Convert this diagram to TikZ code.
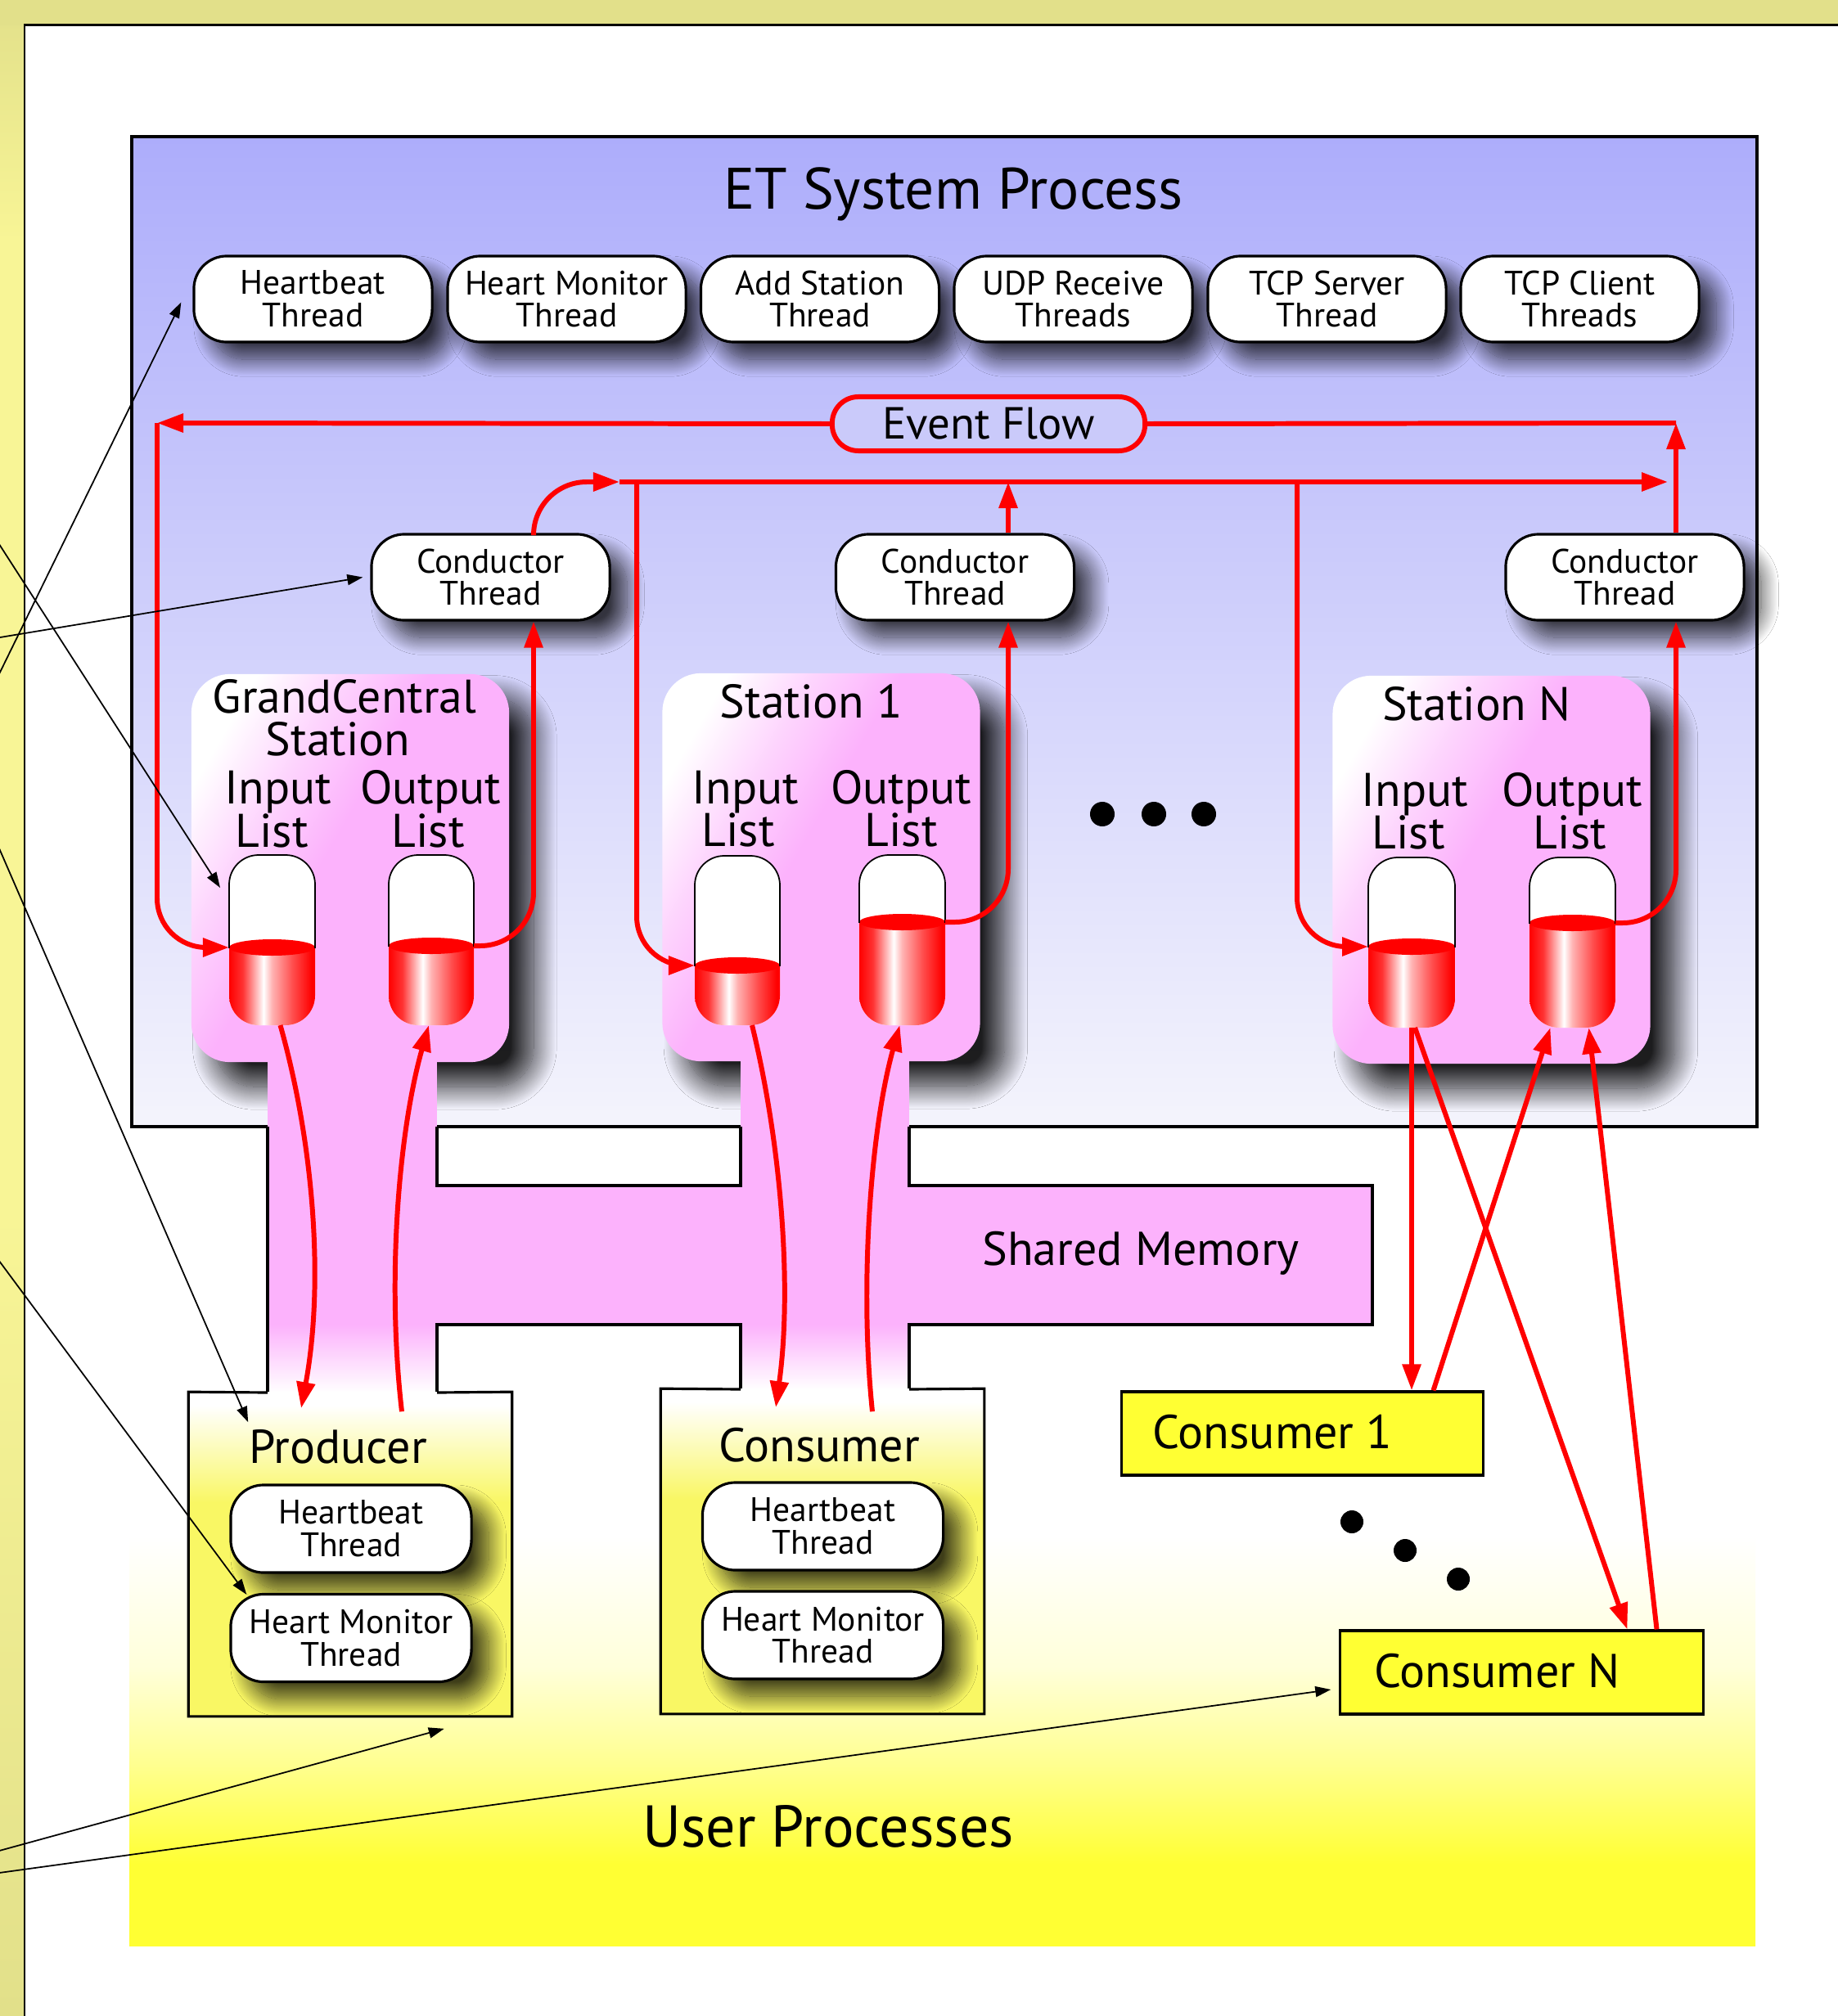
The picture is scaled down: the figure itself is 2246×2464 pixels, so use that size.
\documentclass[tikz,border=0pt]{standalone}
\usepackage{fontspec}
\setmainfont{PT Sans}
\usetikzlibrary{shadows.blur,arrows.meta,calc}

\definecolor{stripY}{HTML}{E2E08A}
\definecolor{stripL}{HTML}{F8F596}
\definecolor{etTop}{HTML}{ADADFB}
\definecolor{etBot}{HTML}{F4F4FC}
\definecolor{stpink}{HTML}{FCB2FC}
\definecolor{uyel}{HTML}{FFFF33}
\definecolor{pyel}{HTML}{F9F764}
\definecolor{cylred}{HTML}{FF0000}
\definecolor{evfill}{HTML}{CACAFA}

\pgfdeclareverticalshading{stripshade}{100bp}{color(0bp)=(stripY); color(25bp)=(stripY); color(45bp)=(stripL); color(69bp)=(stripL); color(75bp)=(stripY); color(100bp)=(stripY)}
\pgfdeclareverticalshading{ushade}{100bp}{color(0bp)=(uyel); color(30bp)=(uyel); color(36bp)=(uyel!55!white); color(42bp)=(uyel!18!white); color(50bp)=(white); color(100bp)=(white)}
\pgfdeclareverticalshading{pshade}{100bp}{color(0bp)=(pyel); color(58bp)=(pyel); color(73bp)=(white); color(100bp)=(white)}
\pgfdeclareverticalshading{stshade}{100bp}{color(0bp)=(stpink); color(54bp)=(stpink); color(65bp)=(stpink!55!white); color(76bp)=(white); color(100bp)=(white)}
\pgfdeclarehorizontalshading{liquid}{100bp}{color(0bp)=(cylred); color(25bp)=(cylred); color(33bp)=(cylred!80!white); color(45bp)=(white); color(50bp)=(cylred!30!white); color(62bp)=(cylred!70!white); color(73bp)=(cylred); color(100bp)=(cylred)}

% list cylinder: name, xleft, xright, ytop, ybottom, ylevel
\newcommand{\listcyl}[6]{%
  \coordinate (#1-nw) at (#2,#4);
  \coordinate (#1-L) at (#2,#6);
  \coordinate (#1-R) at (#3,#6);
  \coordinate (#1-S) at ({(#2+#3)/2},#5);
  \fill[white, rounded corners=0.36cm] (#2,#4) rectangle (#3,#5);
  \begin{scope}
    \clip[rounded corners=0.36cm] (#2,#4) rectangle (#3,#5);
    \shade[shading=liquid] (#2,#6) rectangle (#3,#5);
    \fill[cylred] ({(#2+#3)/2},#6) ellipse [x radius={(#3-#2)*0.005cm}, y radius=0.1cm];
  \end{scope}
  \begin{scope}
    \clip (#2-10,#4-10) rectangle (#3+10,#6);
    \draw[line width=0.5pt, rounded corners=0.36cm] (#2,#4) rectangle (#3,#5);
  \end{scope}
}

\begin{document}
\begin{tikzpicture}[x=0.01cm, y=-0.01cm,
  thread/.style={draw=black, line width=0.9pt, fill=white, rounded corners=0.4cm,
    minimum width=2.91cm, minimum height=1.05cm, inner sep=0pt, align=center,
    font=\fontsize{11.8pt}{11.3pt}\selectfont,
    blur shadow={shadow xshift=6pt, shadow yshift=-6pt, shadow blur radius=6pt, shadow blur steps=25, shadow opacity=75}},
  station/.style={shade, shading=stshade, shading angle=60, rounded corners=0.47cm,
    minimum width=3.88cm, minimum height=4.74cm, inner sep=0pt,
    blur shadow={shadow xshift=8.5pt, shadow yshift=-8.5pt, shadow blur radius=8pt, shadow blur steps=30, shadow opacity=88}},
  procbox/.style={shade, shading=pshade, minimum width=3.94cm, minimum height=3.95cm, inner sep=0pt},
  cbox/.style={draw=black, line width=0.9pt, fill=uyel, inner sep=0pt},
  evbox/.style={draw=cylred, fill=evfill, line width=1.7pt, rounded corners=0.32cm, minimum width=3.82cm,
    minimum height=0.66cm, inner sep=0pt, font=\fontsize{15.6pt}{15.6pt}\selectfont},
  flow/.style={draw=cylred, line width=1.7pt},
  flowarr/.style={flow, -{Triangle[length=0.32cm,width=0.22cm]}},
  ann/.style={draw=black, line width=0.5pt, -{Triangle[length=0.19cm,width=0.13cm]}},
  lbl/.style={anchor=base, inner sep=0pt},
  stlbl/.style={lbl, font=\fontsize{16.4pt}{16.4pt}\selectfont},
  boxlbl/.style={lbl, font=\fontsize{16.5pt}{16.5pt}\selectfont},
  bigdot/.style={circle, fill=black, inner sep=0pt, minimum size=0.3cm},
  smalldot/.style={circle, fill=black, inner sep=0pt, minimum size=0.28cm},
  outline/.style={draw=black, line width=0.9pt}
]
\useasboundingbox (0,0) rectangle (2246,2464);
\clip (0,0) rectangle (2246,2464);

% page background and margins
\fill[white] (0,0) rectangle (2246,2464);
\shade[shading=stripshade] (0,0) rectangle (30,2464);
\fill[stripY] (0,0) rectangle (2246,31);
\draw[line width=0.85pt] (2250,31) -- (30,31) -- (30,2470);

% user processes area
\shade[shading=ushade] (158,1377) rectangle (2145,2378);
% ET system process area
\shade[top color=etTop, bottom color=etBot] (161,167) rectangle (2147,1377);

% top threads
\node[thread] (hb1) at (382.5,365.5) {Heartbeat\\Thread};
\node[thread] (hm1) at (692.5,365.5) {Heart Monitor\\Thread};
\node[thread] (as1) at (1002,365.5) {Add Station\\Thread};
\node[thread] (udp) at (1311.5,365.5) {UDP Receive\\Threads};
\node[thread] (tcps) at (1621.5,365.5) {TCP Server\\Thread};
\node[thread] (tcpc) at (1930.5,365.5) {TCP Client\\Threads};

% conductors
\node[thread] (cG) at (599.5,705.5) {Conductor\\Thread};
\node[thread] (c1) at (1167,705.5) {Conductor\\Thread};
\node[thread] (cN) at (1985.5,705.5) {Conductor\\Thread};

% event flow label
\node[evbox] (ef) at (1208,518) {Event Flow};

% stations
\node[station] (gcst) at (428,1061) {};
\node[station] (s1st) at (1003.5,1060) {};
\node[station] (snst) at (1822.5,1063) {};

% shared memory
\fill[stpink] (327,1288) rectangle (534,1620);
\shade[top color=stpink, bottom color=white] (327,1619) rectangle (534,1702);
\fill[stpink] (905,1288) rectangle (1111,1620);
\shade[top color=stpink, bottom color=white] (905,1619) rectangle (1111,1698);
\fill[stpink] (327,1449) rectangle (1677,1619);

% ET box outline
\draw[outline] (327,1377) -- (161,1377) -- (161,167) -- (2147,167) -- (2147,1377) -- (1111,1377);
\draw[outline] (534,1377) -- (905,1377);
% shared memory outline
\draw[outline] (327,1377) -- (327,1702);
\draw[outline] (534,1377) -- (534,1449) -- (905,1449) -- (905,1377);
\draw[outline] (1111,1377) -- (1111,1449) -- (1677,1449) -- (1677,1619) -- (1111,1619) -- (1111,1698);
\draw[outline] (534,1702) -- (534,1619) -- (905,1619) -- (905,1698);

% producer and consumer processes
\node[procbox] (prodbox) at (428,1899.5) {};
\draw[outline] (327,1702) -- (prodbox.north west) -- (prodbox.south west) -- (prodbox.south east) -- (prodbox.north east) -- (534,1702);
\node[procbox, minimum height=3.96cm] (consbox) at (1005,1896) {};
\draw[outline] (905,1698) -- (consbox.north west) -- (consbox.south west) -- (consbox.south east) -- (consbox.north east) -- (1111,1698);
\node[thread, minimum width=2.94cm, minimum height=1.07cm] (phb) at (429,1868.5) {Heartbeat\\Thread};
\node[thread, minimum width=2.94cm, minimum height=1.07cm] (phm) at (429,2002) {Heart Monitor\\Thread};
\node[thread, minimum width=2.94cm, minimum height=1.07cm] (chb) at (1005.5,1865.5) {Heartbeat\\Thread};
\node[thread, minimum width=2.94cm, minimum height=1.07cm] (chm) at (1005.5,1998.5) {Heart Monitor\\Thread};

\node[cbox, minimum width=4.41cm, minimum height=1.02cm] (cons1) at (1591.5,1752) {};
\node[cbox, minimum width=4.43cm, minimum height=1.02cm] (consN) at (1859.5,2044) {};

% lists
\listcyl{gcin}{280}{385}{1045}{1253}{1158}
\listcyl{gcout}{475}{579}{1045}{1253}{1156}
\listcyl{sain}{849}{953}{1046}{1253}{1180}
\listcyl{saout}{1050}{1155}{1045}{1253}{1127}
\listcyl{snin}{1672}{1778}{1048}{1256}{1157}
\listcyl{snout}{1869}{1974}{1048}{1256}{1128}

% event flow connectors
\coordinate (tl) at (192,517);
\coordinate (tr) at (2048,517);
\coordinate (fl) at (757,589);
\coordinate (fr) at (2038,589);
\coordinate (rG) at (652,589);
\coordinate (r1) at (1232,589);
\coordinate (rN) at (2048,589);
\coordinate (b1) at (778,589);
\coordinate (bN) at (1585,589);

\draw[flowarr] (cN.north -| rN) -- (tr);
\draw[flow] (tr) -- (ef.east);
\draw[flowarr] (ef.west) -- (tl);
\draw[flowarr, rounded corners=0.6cm] (tl) |- (gcin-L);
\draw[flowarr, rounded corners=0.65cm] (gcout-R) -| (cG.south -| rG);
\draw[flowarr, rounded corners=0.65cm] (cG.north -| rG) |- (fl);
\draw[flowarr] (fl) -- (fr);
\draw[flowarr, rounded corners=0.6cm] (b1) |- (sain-L);
\draw[flowarr, rounded corners=0.65cm] (saout-R) -| (c1.south -| r1);
\draw[flowarr] (c1.north -| r1) -- (r1);
\draw[flowarr, rounded corners=0.6cm] (bN) |- (snin-L);
\draw[flowarr, rounded corners=0.65cm] (snout-R) -| (cN.south -| rN);

% shared memory connectors
\draw[flowarr] ($(gcin-S)+(10,0)$) .. controls (384,1400) and (396,1570) .. ($(prodbox.north)+(-60,20)$);
\draw[flowarr] ($(prodbox.north)+(63,24)$) .. controls (472,1560) and (488,1380) .. ($(gcout-S)+(-3,0)$);
\draw[flowarr] ($(sain-S)+(18,0)$) .. controls (955,1400) and (968,1575) .. ($(consbox.north)+(-57,23)$);
\draw[flowarr] ($(consbox.north)+(61,28)$) .. controls (1050,1570) and (1064,1380) .. ($(saout-S)+(-3,0)$);
\draw[flowarr] (snin-S) -- (snin-S |- cons1.north);
\draw[flowarr] ($(cons1.north)+(160,0)$) -- ($(snout-S)+(-27,0)$);
\draw[flowarr] ($(snin-S)+(4,0)$) -- ($(consN.north)+(129,0)$);
\draw[flowarr] ($(consN.north)+(165,0)$) -- ($(snout-S)+(20,0)$);

% texts
\node[lbl, font=\fontsize{20.3pt}{20.3pt}\selectfont] (ettitle) at (1165,256) {ET System Process};
\node[stlbl] (gct1) at (421,871) {GrandCentral};
\node[stlbl] (gct2) at (413,923) {Station};
\node[stlbl] (gci1) at (340,982) {Input};
\node[stlbl] (gci2) at (332,1035) {List};
\node[stlbl] (gco1) at (526,982) {Output};
\node[stlbl] (gco2) at (523,1035) {List};
\node[stlbl] (s1t) at (991.5,877) {Station 1};
\node[stlbl] (s1i1) at (911,982) {Input};
\node[stlbl] (s1i2) at (902,1034) {List};
\node[stlbl] (s1o1) at (1101,982) {Output};
\node[stlbl] (s1o2) at (1101,1034) {List};
\node[stlbl] (snt) at (1804.5,880) {Station N};
\node[stlbl] (sni1) at (1729,985) {Input};
\node[stlbl] (sni2) at (1721,1037) {List};
\node[stlbl] (sno1) at (1921,985) {Output};
\node[stlbl] (sno2) at (1918.5,1037) {List};
\node[boxlbl] (shm) at (1394,1546) {Shared Memory};
\node[boxlbl] (prodt) at (413,1788) {Producer};
\node[boxlbl] (const) at (1001,1786) {Consumer};
\node[boxlbl] (cons1t) at (1555,1770) {Consumer 1};
\node[boxlbl] (consNt) at (1829.5,2062) {Consumer N};
\node[lbl, font=\fontsize{20.5pt}{20.5pt}\selectfont] (usert) at (1012,2257) {User Processes};

% ellipsis dots
\node[bigdot] (e1) at (1347,995) {};
\node[bigdot] (e2) at (1410,995) {};
\node[bigdot] (e3) at (1471,995) {};
\node[smalldot] (d1) at (1652,1860) {};
\node[smalldot] (d2) at (1717,1895) {};
\node[smalldot] (d3) at (1782,1930) {};

% annotation arrows from the left margin
\coordinate (sA) at (-30,883);
\coordinate (sB) at (-30,784);
\coordinate (sC) at (-30,620);
\coordinate (sD) at (-30,970);
\coordinate (sE) at (-30,1502);
\coordinate (sF) at (-30,2270);
\coordinate (sG) at (-30,2293);
\draw[ann] (sA) -- ($(hb1.west)+(-14,4)$);
\draw[ann] (sB) -- ($(cG.west)+(-9,0)$);
\draw[ann] (sC) -- ($(gcin-nw)+(-11,40)$);
\draw[ann] (sD) -- ($(prodbox.north west)+(73,37)$);
\draw[ann] (sE) -- ($(phm.north west)+(21,2)$);
\draw[ann] (sF) -- ($(prodbox.south east)+(-83,15)$);
\draw[ann] (sG) -- ($(consN.west)+(-10,21)$);
\end{tikzpicture}
\end{document}
